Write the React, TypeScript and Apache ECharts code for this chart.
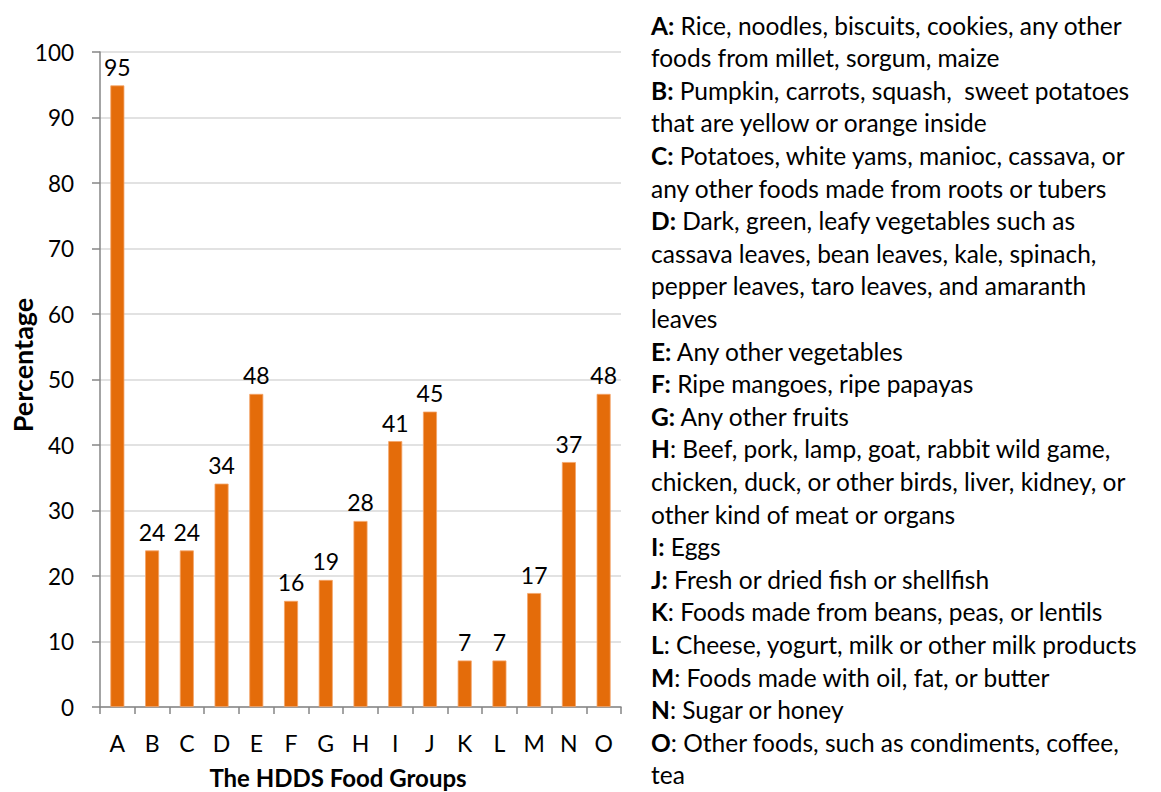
import React, { useEffect, useRef } from "react";
import * as echarts from "echarts";

const categories = ["A", "B", "C", "D", "E", "F", "G", "H", "I", "J", "K", "L", "M", "N", "O"];
const values = [94.9, 23.9, 23.9, 34.1, 47.8, 16.2, 19.4, 28.4, 40.6, 45.1, 7.1, 7.1, 17.4, 37.4, 47.8];
const yMin = 0;
const yMax = 100;
const yInterval = 10;
const yAxisTitle = "Percentage";
const xAxisTitle = "The HDDS Food Groups";

const legendLines: Array<[string, string]> = [
  ["A:", " Rice, noodles, biscuits, cookies, any other"],
  ["", "foods from millet, sorgum, maize"],
  ["B:", " Pumpkin, carrots, squash,  sweet potatoes"],
  ["", "that are yellow or orange inside"],
  ["C:", " Potatoes, white yams, manioc, cassava, or"],
  ["", "any other foods made from roots or tubers"],
  ["D:", " Dark, green, leafy vegetables such as"],
  ["", "cassava leaves, bean leaves, kale, spinach,"],
  ["", "pepper leaves, taro leaves, and amaranth"],
  ["", "leaves"],
  ["E:", " Any other vegetables"],
  ["F:", " Ripe mangoes, ripe papayas"],
  ["G:", " Any other fruits"],
  ["H", ": Beef, pork, lamp, goat, rabbit wild game,"],
  ["", "chicken, duck, or other birds, liver, kidney, or"],
  ["", "other kind of meat or organs"],
  ["I:", " Eggs"],
  ["J:", " Fresh or dried fish or shellfish"],
  ["K", ": Foods made from beans, peas, or lentils"],
  ["L", ": Cheese, yogurt, milk or other milk products"],
  ["M", ": Foods made with oil, fat, or butter"],
  ["N", ": Sugar or honey"],
  ["O", ": Other foods, such as condiments, coffee,"],
  ["", "tea"],
];

const FONT = "Lato, 'Open Sans', sans-serif";

export default function App() {
  const ref = useRef<HTMLDivElement>(null);
  useEffect(() => {
    document.body.style.margin = "0";
    if (!ref.current) return;
    const chart = echarts.init(ref.current, undefined, { renderer: "svg" });
    const legendFont = 24.5;
    const lineGap = 32.6;
    const legendGraphics = legendLines.map(([b, r], i) => ({
      type: "text",
      x: 651,
      y: 25 + i * lineGap,
      style: {
        text: (b ? `{b|${b}}` : "") + `{r|${r}}`,
        rich: {
          b: { fontWeight: "bold", fontSize: legendFont, fontFamily: FONT, fill: "#000" },
          r: { fontWeight: "normal", fontSize: legendFont, fontFamily: FONT, fill: "#000" },
        },
        fontSize: legendFont,
        fontFamily: FONT,
        fill: "#000",
        align: "left",
        verticalAlign: "middle",
      },
    }));
    chart.setOption({
      animation: false,
      backgroundColor: "#fff",
      grid: { left: 100, right: 540, top: 52, bottom: 85, containLabel: false },
      xAxis: {
        type: "category",
        data: categories,
        axisLine: { show: true, lineStyle: { color: "#868686", width: 1.5 } },
        axisTick: { show: true, length: 7, lineStyle: { color: "#868686", width: 1.5 } },
        axisLabel: { fontSize: 23, color: "#000", fontFamily: FONT, margin: 24 },
      },
      yAxis: {
        type: "value",
        min: yMin,
        max: yMax,
        interval: yInterval,
        axisLine: { show: true, lineStyle: { color: "#868686", width: 1.5 } },
        axisTick: { show: true, length: 8, lineStyle: { color: "#868686", width: 1.5 } },
        axisLabel: { fontSize: 22.5, color: "#000", fontFamily: FONT, margin: 26 },
        splitLine: { show: true, lineStyle: { color: "#d9d9d9", width: 1.5 } },
      },
      series: [
        {
          type: "bar",
          data: values,
          barWidth: 14,
          itemStyle: { color: "#E46C0A", borderColor: "#F4A46A", borderWidth: 0.8 },
          label: {
            show: true,
            position: "top",
            distance: 7,
            fontSize: 23,
            color: "#000",
            fontFamily: FONT,
            formatter: (p: any) => String(Math.round(p.value)),
          },
        },
      ],
      graphic: [
        {
          type: "text",
          x: 22,
          y: 365,
          rotation: Math.PI / 2,
          style: {
            text: yAxisTitle,
            fontSize: 27,
            fontWeight: "bold",
            fontFamily: FONT,
            fill: "#000",
            align: "center",
            verticalAlign: "middle",
          },
        },
        {
          type: "text",
          x: 338,
          y: 777,
          style: {
            text: xAxisTitle,
            fontSize: 24,
            fontWeight: "bold",
            fontFamily: FONT,
            fill: "#000",
            align: "center",
            verticalAlign: "middle",
          },
        },
        ...legendGraphics,
      ],
    });
    return () => chart.dispose();
  }, []);
  return <div ref={ref} style={{ width: 1161, height: 792 }} />;
}
